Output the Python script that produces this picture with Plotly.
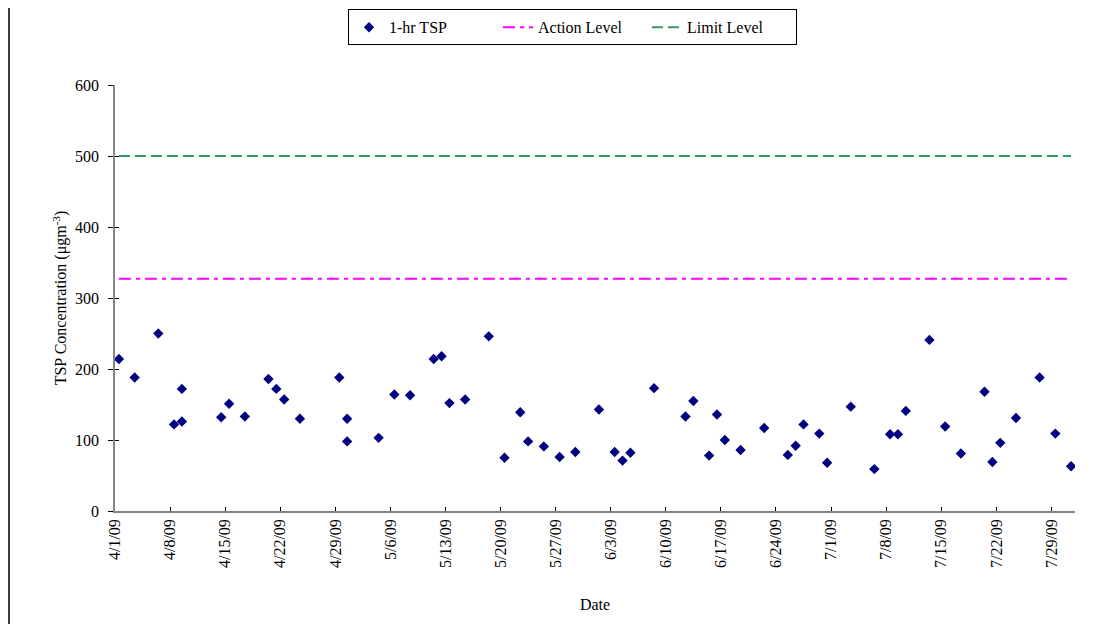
import plotly.graph_objects as go

# ---- data ----
sample_dates = [
    "2009-04-01 12:00", "2009-04-03 12:00", "2009-04-06 12:00", "2009-04-08 12:00",
    "2009-04-09 12:00", "2009-04-09 12:00", "2009-04-14 12:00", "2009-04-15 12:00",
    "2009-04-17 12:00", "2009-04-20 12:00", "2009-04-21 12:00", "2009-04-22 12:00",
    "2009-04-24 12:00", "2009-04-29 12:00", "2009-04-30 12:00", "2009-04-30 12:00",
    "2009-05-04 12:00", "2009-05-06 12:00", "2009-05-08 12:00", "2009-05-11 12:00",
    "2009-05-12 12:00", "2009-05-13 12:00", "2009-05-15 12:00", "2009-05-18 12:00",
    "2009-05-20 12:00", "2009-05-22 12:00", "2009-05-23 12:00", "2009-05-25 12:00",
    "2009-05-27 12:00", "2009-05-29 12:00", "2009-06-01 12:00", "2009-06-03 12:00",
    "2009-06-04 12:00", "2009-06-05 12:00", "2009-06-08 12:00", "2009-06-12 12:00",
    "2009-06-13 12:00", "2009-06-15 12:00", "2009-06-16 12:00", "2009-06-17 12:00",
    "2009-06-19 12:00", "2009-06-22 12:00", "2009-06-25 12:00", "2009-06-26 12:00",
    "2009-06-27 12:00", "2009-06-29 12:00", "2009-06-30 12:00", "2009-07-03 12:00",
    "2009-07-06 12:00", "2009-07-08 12:00", "2009-07-09 12:00", "2009-07-10 12:00",
    "2009-07-13 12:00", "2009-07-15 12:00", "2009-07-17 12:00", "2009-07-20 12:00",
    "2009-07-21 12:00", "2009-07-22 12:00", "2009-07-24 12:00", "2009-07-27 12:00",
    "2009-07-29 12:00", "2009-07-31 12:00",
]
tsp_1hr = [
    214, 188, 250, 122, 126, 172, 132, 151, 133, 186, 172, 157, 130, 188, 130, 98,
    103, 164, 163, 214, 218, 152, 157, 246, 75, 139, 98, 91, 76, 83, 143, 83,
    71, 82, 173, 133, 155, 78, 136, 100, 86, 117, 79, 92, 122, 109, 68, 147,
    59, 108, 108, 141, 241, 119, 81, 168, 69, 96, 131, 188, 109, 63,
]
action_level = 327
limit_level = 500
series_names = ["1-hr TSP", "Action Level", "Limit Level"]
y_ticks = [0, 100, 200, 300, 400, 500, 600]
x_range = ["2009-04-01", "2009-08-01"]

FONT = "Liberation Serif"
W, H = 1110, 624
# page body has an 8px default margin: plot area targets are shifted by -8
ML, MR, MT, MB = 107, 43, 76.7, 121.3
PW, PH = W - ML - MR, H - MT - MB

level_x = [sample_dates[0], sample_dates[-1]]

fig = go.Figure()
fig.add_trace(go.Scatter(
    x=sample_dates, y=tsp_1hr, mode="markers", name=series_names[0],
    marker=dict(symbol="diamond", size=8, color="#000080", line=dict(width=0)),
))
fig.add_trace(go.Scatter(
    x=level_x, y=[action_level] * 2, mode="lines", name=series_names[1],
    line=dict(color="#FF00FF", width=2, dash="12px,5px,4px,5px"),
))
fig.add_trace(go.Scatter(
    x=level_x, y=[limit_level] * 2, mode="lines", name=series_names[2],
    line=dict(color="#339966", width=2, dash="11px,5px"),
))
# overlay axis to draw the inner half of the y cross ticks
fig.add_trace(go.Scatter(x=[], y=[], yaxis="y2", showlegend=False))

fig.update_layout(
    width=W, height=H,
    margin=dict(l=ML, r=MR, t=MT, b=MB, autoexpand=False),
    paper_bgcolor="white", plot_bgcolor="white",
    font=dict(family=FONT, size=16, color="black"),
    showlegend=True,
    legend=dict(
        orientation="h", x=(564.5 - ML) / PW, xanchor="center",
        y=1 + (MT - 1) / PH, yanchor="top",
        bordercolor="black", borderwidth=1, bgcolor="white",
        font=dict(family=FONT, size=16, color="black"),
        entrywidth=104, entrywidthmode="pixels",
        itemwidth=30, tracegroupgap=0,
    ),
    xaxis=dict(
        type="date", range=x_range, tick0="2009-04-01", dtick=7 * 86400000,
        tickformat="%-m/%-d/%y", tickangle=-90,
        ticks="inside", ticklen=4, tickcolor="black", tickwidth=1,
        showline=True, linecolor="#868686", linewidth=1.5,
        showgrid=False, zeroline=False,
        tickfont=dict(family=FONT, size=16, color="black"),
        title=dict(text="Date", font=dict(family=FONT, size=16, color="black"), standoff=32),
        automargin=False,
    ),
    yaxis=dict(
        range=[0, 600], tickvals=y_ticks,
        ticks="outside", ticklen=5, tickcolor="black", tickwidth=1,
        showline=True, linecolor="#868686", linewidth=1.5,
        showgrid=False, zeroline=False, ticklabelstandoff=6,
        tickfont=dict(family=FONT, size=16, color="black"),
        title=dict(text="TSP Concentration (\u03bcgm<sup>-3</sup>)",
                   font=dict(family=FONT, size=16, color="black"), standoff=4),
        automargin=False,
    ),
    yaxis2=dict(
        range=[0, 600], tickvals=y_ticks, overlaying="y", side="left",
        ticks="inside", ticklen=4, tickcolor="black", tickwidth=1,
        showticklabels=False, showline=False, showgrid=False, zeroline=False,
    ),
    shapes=[dict(
        type="line", xref="paper", yref="paper",
        x0=(1 - ML) / PW, x1=(1 - ML) / PW,
        y0=-(MB + 5) / PH, y1=1 + (MT + 5) / PH,
        line=dict(color="#3a3a3a", width=2),
    )],
)

fig.write_html("out.html")
